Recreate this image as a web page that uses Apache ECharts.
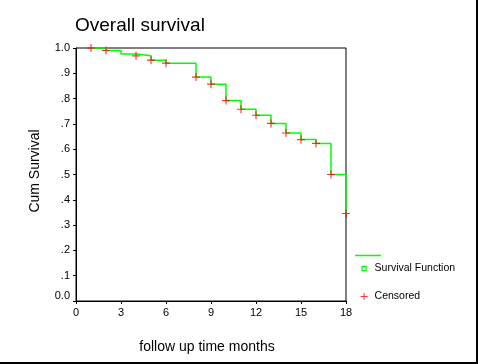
<!DOCTYPE html>
<html><head><meta charset="utf-8">
<script src="https://cdn.jsdelivr.net/npm/echarts@6/dist/echarts.min.js"></script>
<style>html,body{margin:0;padding:0;background:#fff}#c{width:478px;height:364px}</style>
</head><body><div id="c"></div>
<script>
// Survival step function (time in months, cumulative survival)
const survTimes = [1, 2, 3, 4, 5, 6, 8, 9, 10, 11, 12, 13, 14, 15, 16, 17, 18];
const survValues = [1.0, 0.990, 0.976, 0.969, 0.952, 0.940, 0.885, 0.857, 0.792, 0.758, 0.734, 0.702, 0.664, 0.638, 0.623, 0.500, 0.346];
// Censored marks
const censTimes = [1, 2, 4, 5, 6, 8, 9, 10, 11, 12, 13, 14, 15, 16, 17, 18];
const censValues = [1.0, 0.990, 0.969, 0.952, 0.940, 0.885, 0.857, 0.792, 0.758, 0.734, 0.702, 0.664, 0.638, 0.623, 0.500, 0.346];
// Axis tick labels
const xTicks = ['0', '3', '6', '9', '12', '15', '18'];
const yTicks = ['0.0', '.1', '.2', '.3', '.4', '.5', '.6', '.7', '.8', '.9', '1.0'];

const FONT = '"Liberation Sans", Arial, sans-serif';
const plusPath = 'path://M0,4.3H10V5.7H0Z M4.3,0H5.7V10H4.3Z';
// small hollow square centred in a 10x10 box (corner moves keep the box size)
const squarePath = 'path://M0,0L0,0M10,10L10,10M2,2H8V8H2Z';

const chart = echarts.init(document.getElementById('c'), null, {renderer: 'canvas'});
chart.setOption({
  backgroundColor: '#fff',
  animation: false,
  textStyle: {fontFamily: FONT, color: '#000'},
  title: {
    text: 'Overall survival', left: 75, top: 16, padding: 0,
    textStyle: {fontFamily: FONT, fontSize: 19, fontWeight: 'normal', color: '#000'}
  },
  grid: {left: 76, right: 132, top: 48, bottom: 63, show: true, borderColor: '#000', borderWidth: 1, backgroundColor: 'transparent'},
  xAxis: {
    type: 'value', min: 0, max: 18, interval: 3,
    name: 'follow up time months', nameLocation: 'middle', nameGap: 39,
    nameTextStyle: {fontFamily: FONT, fontSize: 14, color: '#000', padding: [0, 8, 0, 0]},
    axisLine: {lineStyle: {color: '#000', width: 1}},
    axisTick: {show: true, length: 3, lineStyle: {color: '#000'}},
    axisLabel: {fontFamily: FONT, fontSize: 11, color: '#000', margin: 6,
      formatter: v => xTicks[Math.round(v / 3)]},
    splitLine: {show: false}
  },
  yAxis: {
    type: 'value', min: 0, max: 1, interval: 0.1,
    name: 'Cum Survival', nameLocation: 'middle', nameGap: 34,
    nameTextStyle: {fontFamily: FONT, fontSize: 14, color: '#000', padding: [0, 0, 0, 7]},
    axisLine: {show: true, lineStyle: {color: '#000', width: 1}},
    axisTick: {show: true, length: 3, lineStyle: {color: '#000'}},
    axisLabel: {fontFamily: FONT, fontSize: 11, color: '#000', margin: 6,
      formatter: v => {
        const i = Math.round(v * 10);
        return i === 0 ? '{z|' + yTicks[i] + '}' : yTicks[i];
      },
      rich: {z: {fontFamily: FONT, fontSize: 11, color: '#000', padding: [0, 0, 10, 0]}}
    },
    splitLine: {show: false}
  },
  legend: {
    left: 360, top: 263, orient: 'vertical', itemGap: 17, padding: 0,
    itemWidth: 7, itemHeight: 7,
    textStyle: {fontFamily: FONT, fontSize: 10.5, color: '#000', padding: [0, 0, 0, 2]},
    data: [
      {name: 'Survival Function', icon: squarePath, itemStyle: {color: '#fff', borderColor: '#00ff00', borderWidth: 1.2}},
      {name: 'Censored', icon: plusPath, itemStyle: {color: '#ff0000', borderWidth: 0}}
    ]
  },
  graphic: [
    {type: 'line', shape: {x1: 355, y1: 255.5, x2: 381, y2: 255.5}, style: {stroke: '#00ff00', lineWidth: 1.5}},
    {type: 'rect', shape: {x: 476, y: 0, width: 2, height: 364}, style: {fill: '#000'}},
    {type: 'rect', shape: {x: 0, y: 362, width: 478, height: 2}, style: {fill: '#000'}}
  ],
  series: [
    {
      name: 'Survival Function', type: 'line', step: 'end',
      data: survTimes.map((t, i) => [t, survValues[i]]),
      showSymbol: false, symbol: 'none',
      lineStyle: {color: '#00ff00', width: 1.5},
      itemStyle: {color: '#00ff00'}
    },
    {
      name: 'Censored', type: 'scatter',
      data: censTimes.map((t, i) => [t, censValues[i]]),
      symbol: plusPath, symbolSize: 8,
      itemStyle: {color: '#ff0000'}, z: 3
    }
  ]
});
</script></body></html>
